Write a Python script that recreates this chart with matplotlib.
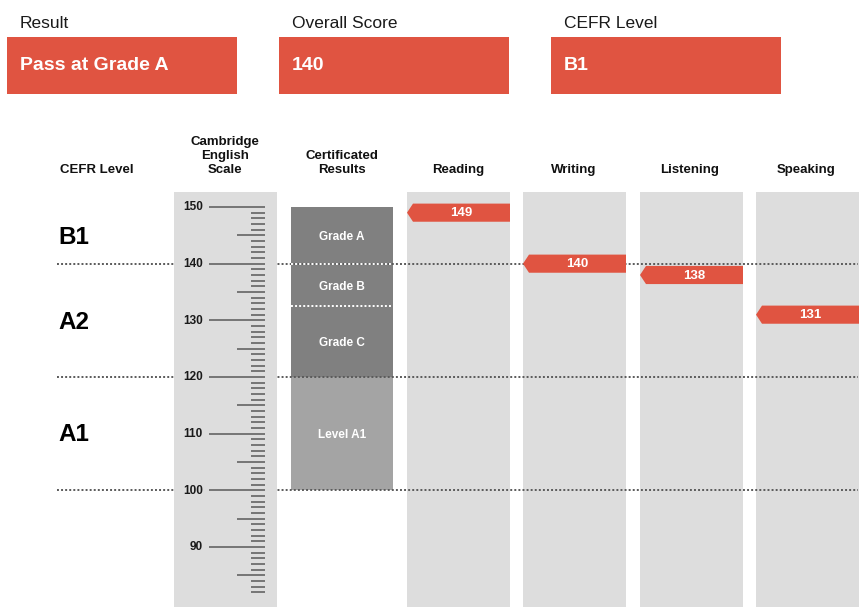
import matplotlib
matplotlib.use("Agg")
import matplotlib.pyplot as plt
from matplotlib.patches import Rectangle, Polygon

# ---------------- data ----------------
header_titles = ["Result", "Overall Score", "CEFR Level"]
header_values = ["Pass at Grade A", "140", "B1"]

column_titles = ["CEFR Level", "Cambridge\nEnglish\nScale", "Certificated\nResults",
                 "Reading", "Writing", "Listening", "Speaking"]

skills = ["Reading", "Writing", "Listening", "Speaking"]
skill_scores = [149, 140, 138, 131]

cefr_levels = ["B1", "A2", "A1"]
cefr_label_at = [145, 130, 110.3]
cefr_boundaries = [140, 120, 100]

grade_names = ["Grade A", "Grade B", "Grade C", "Level A1"]
grade_low = [140, 132.5, 120, 100]
grade_high = [150, 140, 132.5, 120]
grade_label_at = [145, 136.2, 126.2, 110]
grade_boundaries_inside = [140, 132.5]

scale_labels = [150, 140, 130, 120, 110, 100, 90]
scale_tick_min, scale_tick_max = 82, 150

# ---------------- style ----------------
RED = "#E05441"
COL_BG = "#DDDDDD"
DARK = "#808080"
LIGHT = "#A4A4A4"
TICK = "#595959"
FONT = "Liberation Sans"

W, H = 868, 615
fig = plt.figure(figsize=(W / 100, H / 100), dpi=100)

# header axes in pixel coordinates
hdr = fig.add_axes([0, 0, 1, 1])
hdr.set_xlim(0, W)
hdr.set_ylim(H, 0)
hdr.axis("off")

box_x = [7, 279, 551]
for bx, t, v in zip(box_x, header_titles, header_values):
    hdr.text(bx + 13, 22.5, t, fontsize=12.5, family=FONT, color="#1a1a1a",
             va="center_baseline", ha="left")
    hdr.add_patch(Rectangle((bx, 37), 230, 57, color=RED, lw=0))
    hdr.text(bx + 13, 64, v, fontsize=14, family=FONT, weight="bold",
             color="white", va="center_baseline", ha="left")

# main axes: x in pixels, y in score units
ax = fig.add_axes([0, 0, 1, 1])
ax.patch.set_alpha(0)
ax.set_xlim(0, W)
ax.set_ylim(78.0, 186.53)
ax.axis("off")

col_top, col_bottom = 152.6, 79.4

# column headers
title_x = [97, 225, 342, 458, 574, 690, 806]
for tx, t in zip(title_x, column_titles):
    ax.text(tx, 156.0, t, fontsize=9.5, family=FONT, weight="bold",
            ha="center", va="baseline", linespacing=1.22, color="#111111")

# CEFR boundary dotted lines
for b in cefr_boundaries:
    ax.plot([57, 858], [b, b], color="#5a5a5a", lw=1.4,
            linestyle=(0, (1, 1.1)), zorder=2)

# scale column
ax.add_patch(Rectangle((174, col_bottom), 103, col_top - col_bottom,
                       color=COL_BG, lw=0, zorder=3))
for v in range(scale_tick_max, scale_tick_min - 1, -1):
    if v % 10 == 0:
        x0 = 209
    elif v % 5 == 0:
        x0 = 237
    else:
        x0 = 251
    ax.plot([x0, 265], [v, v], color=TICK, lw=1.1, solid_capstyle="butt", zorder=4)
for s in scale_labels:
    ax.text(203, s + 0.2, str(s), fontsize=8.5, family=FONT, weight="bold",
            ha="right", va="center_baseline", color="#1a1a1a", zorder=4)

# skill columns
skill_left = [407, 523, 640, 756]
for xl in skill_left:
    ax.add_patch(Rectangle((xl, col_bottom), 103, col_top - col_bottom,
                           color=COL_BG, lw=0, zorder=1))

# certificated results
for name, lo, hi, ly in zip(grade_names, grade_low, grade_high, grade_label_at):
    c = LIGHT if name.startswith("Level") else DARK
    ax.add_patch(Rectangle((291, lo), 102, hi - lo, color=c, lw=0, zorder=1.5))
    ax.text(342, ly, name, fontsize=8.5, family=FONT, weight="bold",
            color="white", ha="center", va="center_baseline", zorder=5)
for b in grade_boundaries_inside:
    ax.plot([291, 393], [b, b], color="white", lw=1.4,
            linestyle=(0, (1, 1.1)), zorder=2.5)

# CEFR level labels
for lab, y in zip(cefr_levels, cefr_label_at):
    ax.text(58, y, lab, fontsize=17.5, family=FONT, weight="bold",
            ha="left", va="center_baseline", color="black")

# score markers
mh = 3.2
notch = 6
for xl, sc in zip(skill_left, skill_scores):
    xr = xl + 103
    poly = Polygon([(xl, sc), (xl + notch, sc + mh / 2), (xr, sc + mh / 2),
                    (xr, sc - mh / 2), (xl + notch, sc - mh / 2)],
                   closed=True, color=RED, lw=0, zorder=6)
    ax.add_patch(poly)
    ax.text((xl + notch + xr) / 2, sc + 0.15, str(sc), fontsize=9.5, family=FONT,
            weight="bold", color="white", ha="center", va="center_baseline",
            zorder=7)

fig.savefig("out.png", dpi=100)
